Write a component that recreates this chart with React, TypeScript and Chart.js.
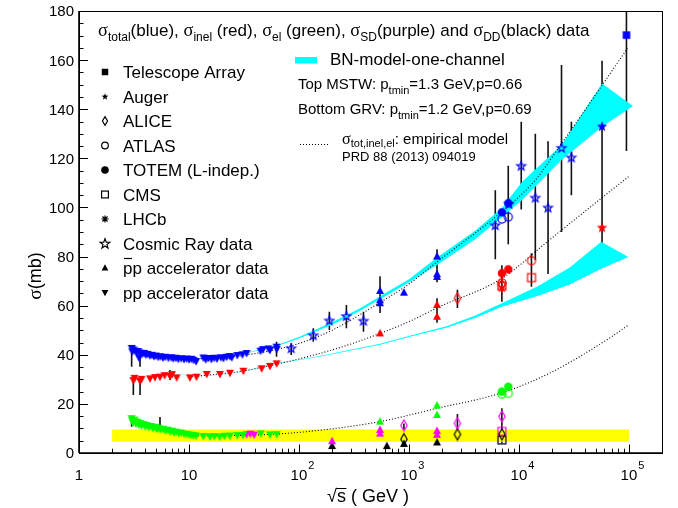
import React, { useEffect, useRef } from 'react';
import { Chart, registerables } from 'chart.js';
Chart.register(...registerables);

// ---------------- data: sqrt(s) in GeV, sigma in mb ----------------
// low-energy pp total (blue, down triangles)
const totLowE = [3.01, 3.05, 3.12, 3.23, 3.35, 3.46, 3.52, 3.6, 3.75, 3.9, 4.05, 4.2, 4.4, 4.6, 4.8, 5.0, 5.25, 5.5, 5.8, 6.1, 6.5, 6.9, 7.2, 7.6, 8.0, 8.5, 9.0, 9.5, 10.0, 10.5, 11.0, 11.6, 13.5, 14.2, 15.0, 16.0, 17.0, 18.0, 19.5, 20.6, 22.0, 23.5, 24.5, 27.5, 30.6, 33.4, 44.7, 47.0, 52.8, 54.5, 62.5, 62.8];
const totLowS = [42.8, 41.4, 42.2, 41.7, 41.0, 41.5, 38.8, 40.9, 40.5, 40.8, 40.1, 40.4, 39.8, 40.0, 39.5, 39.7, 39.2, 39.4, 38.9, 39.2, 38.8, 39.0, 38.6, 38.8, 38.4, 38.6, 38.3, 38.5, 38.2, 38.4, 38.0, 37.4, 38.9, 38.2, 38.7, 38.3, 38.8, 38.5, 39.0, 38.7, 39.2, 39.5, 39.0, 39.9, 40.2, 40.7, 41.7, 42.3, 42.6, 42.0, 43.3, 42.4];
// low-energy pp inelastic (red, down triangles)
const inelLowE = [3.12, 3.2, 3.59, 3.7, 4.42, 4.9, 5.45, 6.0, 6.72, 7.0, 7.73, 10.2, 11.7, 14.5, 19.1, 23.6, 31.2, 45.8, 54.5, 62.7];
const inelLowS = [29.7, 30.6, 29.4, 30.2, 30.4, 30.9, 31.1, 31.7, 31.4, 32.1, 30.8, 30.8, 31.1, 32.2, 32.2, 32.7, 33.5, 34.5, 35.5, 36.5];
// low-energy pp elastic (green, down triangles)
const elLowE = [3.0, 3.05, 3.1, 3.2, 3.3, 3.4, 3.5, 3.6, 3.7, 3.85, 4.0, 4.15, 4.3, 4.5, 4.7, 4.9, 5.1, 5.3, 5.5, 5.8, 6.1, 6.4, 6.7, 7.0, 7.3, 7.7, 8.1, 8.5, 9.0, 9.5, 10.0, 10.5, 11.0, 11.6, 13.5, 15.5, 17.0, 19.0, 21.0, 23.5, 27.5, 31.0, 45.0, 54.5, 62.7];
const elLowS = [14.2, 13.2, 12.4, 13.6, 12.0, 12.8, 11.6, 12.2, 11.2, 11.8, 10.9, 11.4, 10.6, 11.0, 10.3, 10.7, 9.9, 10.3, 9.6, 9.9, 9.2, 9.5, 8.9, 9.1, 8.5, 8.7, 8.2, 8.3, 7.9, 7.8, 7.6, 7.4, 7.3, 7.1, 6.9, 6.8, 6.9, 6.7, 7.0, 7.1, 7.3, 7.4, 8.0, 7.6, 7.7];
// ISR single diffraction (purple, down triangles)
const sdIsrE = [33.4, 36.2, 39.2];
const sdIsrS = [7.6, 7.9, 7.5];
// pbar-p accelerator data (up triangles)
const totPbarE = [546, 546, 546, 900, 1800, 1800, 1800];
const totPbarS = [66.0, 62.2, 61.0, 65.3, 80.0, 72.8, 71.7];
const inelPbarE = [546, 1800, 1800];
const inelPbarS = [48.7, 60.3, 55.5];
const elPbarE = [546, 1800, 1800];
const elPbarS = [12.8, 19.3, 15.5];
const sdPbarE = [200, 546, 546, 1800, 1800];
const sdPbarS = [4.8, 9.4, 7.9, 9.0, 7.4];
const ddPbarE = [200, 630, 900, 1800];
const ddPbarS = [2.85, 2.8, 3.7, 4.3];
// LHC experiments
const totemE = [7000, 8000];
const totemTot = [98.0, 101.7];
const totemInel = [73.2, 74.8];
const totemEl = [25.0, 27.0];
const atlasE = [7000, 8000];
const atlasTot = [95.3, 96.1];
const atlasEl = [24.0, 24.3];
const atlasInelE = [7000, 13000];
const atlasInel = [69.3, 78.3];
const cmsInelE = [7000, 13000];
const cmsInel = [68.0, 71.4];
const lhcbInelE = [7000];
const lhcbInel = [66.9];
const aliceInelE = [2760, 7000];
const aliceInel = [63.0, 68.5];
const aliceSdE = [900, 2760, 7000];
const aliceSd = [11.2, 12.1, 14.9];
const aliceDdE = [900, 2760, 7000];
const aliceDd = [5.6, 7.6, 7.6];
const cmsSdE = [7000];
const cmsSd = [8.8];
const cmsDdE = [7000];
const cmsDd = [5.3];
// cosmic rays
const cosmicE = [85, 135, 189, 270, 386, 6100, 8100, 10500, 14100, 18400, 24400, 30000];
const cosmicS = [42.7, 48.0, 54.0, 55.8, 53.9, 92.8, 101.5, 117.0, 104.0, 100.0, 124.3, 120.4];
const augerE = [57000];
const augerTot = [133.1];
const augerInel = [91.9];
const taE = [95000];
const taTot = [170.2];
// error bars: x, low, high
const errX = [3.01, 3.59, 3.12, 3.59, 6.72, 3.01, 5.45, 62.5, 85, 135, 189, 270, 386, 546, 1800, 1800, 2760, 7000, 13000, 6100, 8000, 10500, 14100, 18400, 24400, 30000, 57000, 95000, 900, 2760, 7000];
const errLo = [35.1, 35.1, 23.6, 23.6, 29.7, 10.7, 10.2, 39.2, 39.9, 45.3, 50.1, 50.8, 49.4, 57.0, 69.5, 53.0, 59.0, 61.6, 67.7, 78.9, 85.0, 99.2, 78.6, 72.9, 90.0, 105.0, 77.2, 123.0, 3.0, 4.6, 3.9];
const errHi = [43.3, 40.6, 31.1, 30.4, 33.8, 14.8, 14.7, 45.3, 44.7, 50.8, 57.5, 60.3, 57.5, 72.0, 83.0, 63.0, 66.5, 76.5, 81.3, 107.0, 117.0, 134.9, 130.0, 127.0, 158.0, 134.9, 159.7, 230.0, 12.0, 15.9, 18.2];
// empirical model curves (dotted)
const empTotE = [5, 10, 20, 40, 60, 100, 200, 546, 1000, 1800, 7000, 14000, 24400, 57000, 97000];
const empTotS = [39.5, 38.4, 38.8, 40.5, 42.0, 44.6, 50.0, 61.3, 68.8, 77.8, 98.3, 111.0, 126.0, 149.7, 164.8];
const empInelE = [10, 30, 60, 100, 250, 546, 1000, 1900, 7000, 18400, 57000, 99000];
const empInelS = [31.0, 33.3, 36.0, 38.3, 43.3, 48.7, 53.5, 59.6, 71.1, 86.3, 104.0, 112.5];
const empElE = [10, 30, 62, 165, 546, 1800, 7000, 20000, 62500, 99000];
const empElS = [7.0, 7.2, 7.7, 9.4, 12.8, 18.2, 24.5, 33.0, 46.0, 52.1];
// BN model bands (cyan)
const bnTotE = [5, 12, 20, 33, 60, 100, 200, 350, 546, 1000, 1800, 4000, 7000, 10700, 24400, 57000, 109000];
const bnTotHi = [39.5, 38.6, 39.3, 40.8, 43.6, 47.2, 53.2, 58.6, 63.8, 70.8, 79.6, 90.5, 99.8, 110.5, 125.4, 150.5, 141.3];
const bnTotLo = [39.3, 38.4, 39.1, 40.6, 43.2, 46.6, 52.2, 57.6, 62.6, 69.4, 76.6, 87.0, 96.0, 103.0, 119.3, 132.9, 141.3];
const bnInE = [5, 12.4, 20, 30, 62, 120, 200, 546, 1000, 2200, 4000, 7000, 15000, 29000, 56000, 99000];
const bnInHi = [32.7, 31.4, 32.0, 33.1, 36.5, 38.6, 40.5, 44.5, 47.6, 51.6, 56.0, 61.0, 68.0, 75.5, 86.0, 79.8];
const bnInLo = [32.6, 31.3, 31.9, 33.0, 36.3, 38.4, 40.2, 44.1, 47.2, 51.0, 55.0, 59.6, 64.0, 68.6, 75.0, 79.8];
// yellow band
const yelE = [2, 100000];
const yelLo = [4.6, 4.6];
const yelHi = [9.6, 9.6];
// ticks
const xTickVals = [1, 10, 100, 1000, 10000, 100000];
const xTickBase = ['1', '10', '10', '10', '10', '10'];
const xTickSup = ['', '', '2', '3', '4', '5'];
const yTickVals = [0, 20, 40, 60, 80, 100, 120, 140, 160, 180];
const legendLabels = ['Telescope Array', 'Auger', 'ALICE', 'ATLAS', 'TOTEM (L-indep.)', 'CMS', 'LHCb', 'Cosmic Ray data', 'pp accelerator data', 'pp accelerator data'];

// ---------------- styling ----------------
const BLUE = '#0000ff', RED = '#ff0000', GREEN = '#00ff00', MAG = '#ff00ff', BLACK = '#000000', CYAN = '#00ffff', YEL = '#ffff00';
const SANS = '"Liberation Sans", Arial, sans-serif';
const SERIF = '"Liberation Serif", "Times New Roman", serif';

type Kind = 'triUp' | 'triDown' | 'circF' | 'circO' | 'sqF' | 'sqO' | 'diaO' | 'starO' | 'starF' | 'aster';
const legendKinds: [Kind, number][] = [['sqF', 0.9], ['starF', 0.55], ['diaO', 0.8], ['circO', 0.9], ['circF', 0.95], ['sqO', 0.95], ['aster', 0.9], ['starO', 0.85], ['triUp', 0.85], ['triDown', 0.85]];

function starPath(ctx: CanvasRenderingContext2D, cx: number, cy: number, ro: number, ri: number) {
  ctx.beginPath();
  for (let i = 0; i < 10; i++) {
    const r = i % 2 === 0 ? ro : ri;
    const a = -Math.PI / 2 + (i * Math.PI) / 5;
    const px = cx + r * Math.cos(a), py = cy + r * Math.sin(a);
    if (i === 0) ctx.moveTo(px, py); else ctx.lineTo(px, py);
  }
  ctx.closePath();
}

function drawMarker(ctx: CanvasRenderingContext2D, kind: Kind, cx: number, cy: number, color: string, s = 1) {
  ctx.save();
  ctx.fillStyle = color;
  ctx.strokeStyle = color;
  ctx.lineWidth = 1.2;
  ctx.setLineDash([]);
  switch (kind) {
    case 'triUp':
      ctx.beginPath(); ctx.moveTo(cx, cy - 4.5 * s); ctx.lineTo(cx + 4 * s, cy + 3 * s); ctx.lineTo(cx - 4 * s, cy + 3 * s); ctx.closePath(); ctx.fill(); break;
    case 'triDown':
      ctx.beginPath(); ctx.moveTo(cx - 4 * s, cy - 3 * s); ctx.lineTo(cx + 4 * s, cy - 3 * s); ctx.lineTo(cx, cy + 4.5 * s); ctx.closePath(); ctx.fill(); break;
    case 'circF':
      ctx.beginPath(); ctx.arc(cx, cy, 4 * s, 0, Math.PI * 2); ctx.fill(); break;
    case 'circO':
      ctx.beginPath(); ctx.arc(cx, cy, 3.7 * s, 0, Math.PI * 2); ctx.stroke(); break;
    case 'sqF':
      ctx.fillRect(cx - 3.6 * s, cy - 3.6 * s, 7.2 * s, 7.2 * s); break;
    case 'sqO':
      ctx.strokeRect(cx - 3.6 * s, cy - 3.6 * s, 7.2 * s, 7.2 * s); break;
    case 'diaO':
      ctx.beginPath(); ctx.moveTo(cx, cy - 5.5 * s); ctx.lineTo(cx + 3.2 * s, cy); ctx.lineTo(cx, cy + 5.5 * s); ctx.lineTo(cx - 3.2 * s, cy); ctx.closePath(); ctx.stroke(); break;
    case 'starO':
      starPath(ctx, cx, cy + 0.5 * s, 6 * s, 2.5 * s); ctx.stroke(); break;
    case 'starF':
      starPath(ctx, cx, cy + 0.5 * s, 6.5 * s, 2.7 * s); ctx.fill(); break;
    case 'aster':
      ctx.beginPath();
      for (let i = 0; i < 4; i++) {
        const a = (i * Math.PI) / 4;
        ctx.moveTo(cx - 4 * s * Math.cos(a), cy - 4 * s * Math.sin(a));
        ctx.lineTo(cx + 4 * s * Math.cos(a), cy + 4 * s * Math.sin(a));
      }
      ctx.stroke(); break;
  }
  ctx.restore();
}

function makeImg(kind: Kind, color: string, s = 1) {
  const c = document.createElement('canvas');
  c.width = 18; c.height = 18;
  drawMarker(c.getContext('2d')!, kind, 9, 9, color, s);
  return c;
}

const pts = (E: number[], S: number[]) => E.map((x, i) => ({ x, y: S[i] }));

type Seg = [string, number]; // 0 normal, 1 sub, 2 sup, 3 greek
function rich(ctx: CanvasRenderingContext2D, segs: Seg[], x: number, y: number, size: number, align: 'left' | 'center' = 'left', subDy = 0.3) {
  const font = (k: number) => (k === 3 ? `${size * 1.08}px ${SERIF}` : k === 1 || k === 2 ? `${Math.round(size * 0.7)}px ${SANS}` : `${size}px ${SANS}`);
  let w = 0;
  for (const [t, k] of segs) { ctx.font = font(k); w += ctx.measureText(t).width; }
  let cx = align === 'center' ? x - w / 2 : x;
  ctx.textAlign = 'left';
  ctx.textBaseline = 'alphabetic';
  for (const [t, k] of segs) {
    ctx.font = font(k);
    const dy = k === 1 ? size * subDy : k === 2 ? -size * 0.45 : 0;
    ctx.fillText(t, cx, y + dy);
    cx += ctx.measureText(t).width;
  }
  return w;
}

const overlayPlugin = {
  id: 'overlay',
  beforeDatasetsDraw(chart: any) {
    const { ctx, chartArea: a, scales } = chart;
    const xs = scales.x, ys = scales.y;
    ctx.save();
    ctx.beginPath(); ctx.rect(a.left, a.top, a.right - a.left, a.bottom - a.top); ctx.clip();
    ctx.strokeStyle = '#111'; ctx.lineWidth = 1.6;
    ctx.beginPath();
    for (let i = 0; i < errX.length; i++) {
      const px = xs.getPixelForValue(errX[i]);
      ctx.moveTo(px, ys.getPixelForValue(errLo[i]));
      ctx.lineTo(px, ys.getPixelForValue(errHi[i]));
    }
    ctx.stroke();
    ctx.restore();
  },
  afterDraw(chart: any) {
    const { ctx, chartArea: a, scales } = chart;
    const xs = scales.x, ys = scales.y;
    ctx.save();
    ctx.fillStyle = '#000'; ctx.strokeStyle = '#000';
    // frame
    ctx.lineWidth = 1; ctx.setLineDash([]);
    ctx.strokeRect(a.left + 0.5, a.top + 0.5, a.right - a.left, a.bottom - a.top);
    ctx.lineWidth = 1.6;
    ctx.beginPath(); ctx.moveTo(a.left, a.bottom); ctx.lineTo(a.right + 1, a.bottom); ctx.moveTo(a.left, a.top); ctx.lineTo(a.left, a.bottom); ctx.stroke();
    // x ticks
    ctx.lineWidth = 1;
    ctx.beginPath();
    for (let d = 1; d <= 100000; d *= 10) {
      for (let m = 1; m <= 9; m++) {
        const v = d * m;
        if (v > 200000) break;
        const px = Math.round(xs.getPixelForValue(v)) + 0.5;
        const len = m === 1 ? 8.5 : 4.3;
        ctx.moveTo(px, a.bottom); ctx.lineTo(px, a.bottom - len);
      }
    }
    // y ticks
    for (let v = 0; v <= 180; v += 5) {
      const py = Math.round(ys.getPixelForValue(v)) + 0.5;
      const len = v % 20 === 0 ? 9 : 4.5;
      ctx.moveTo(a.left, py); ctx.lineTo(a.left + len, py);
    }
    ctx.stroke();
    // tick labels
    for (let i = 0; i < xTickVals.length; i++) {
      const px = xs.getPixelForValue(xTickVals[i]);
      ctx.font = `15px ${SANS}`; ctx.textAlign = 'center'; ctx.textBaseline = 'alphabetic';
      ctx.fillText(xTickBase[i], px, 480);
      if (xTickSup[i]) {
        const w = ctx.measureText(xTickBase[i]).width;
        ctx.font = `11px ${SANS}`; ctx.textAlign = 'left';
        ctx.fillText(xTickSup[i], px + w / 2 + 1, 469);
      }
    }
    ctx.font = `15px ${SANS}`; ctx.textAlign = 'right'; ctx.textBaseline = 'alphabetic';
    for (const v of yTickVals) ctx.fillText(String(v), 74, ys.getPixelForValue(v) + 5.4);
    // axis titles
    ctx.font = `18px ${SANS}`; ctx.textAlign = 'left';
    const xt = '√s ( GeV )';
    const xw = ctx.measureText(xt).width;
    const x0 = 368 - xw / 2;
    ctx.fillText(xt, x0, 502);
    const rw = ctx.measureText('√').width, sw = ctx.measureText('s').width;
    ctx.lineWidth = 1; ctx.beginPath(); ctx.moveTo(x0 + rw - 1, 488.5); ctx.lineTo(x0 + rw + sw + 0.5, 488.5); ctx.stroke();
    ctx.save();
    ctx.translate(41, 276); ctx.rotate(-Math.PI / 2);
    rich(ctx, [['σ', 3], ['(mb)', 0]], 0, 0, 18, 'center');
    ctx.restore();
    // title
    rich(ctx, [['σ', 3], ['total', 1], ['(blue), ', 0], ['σ', 3], ['inel', 1], [' (red), ', 0], ['σ', 3], ['el', 1], [' (green), ', 0], ['σ', 3], ['SD', 1], ['(purple) and ', 0], ['σ', 3], ['DD', 1], ['(black) data', 0]], 98, 36, 17);
    // legend (left)
    for (let i = 0; i < legendLabels.length; i++) {
      const by = 78 + i * 24.5;
      const [k, s] = legendKinds[i];
      drawMarker(ctx, k, 105, by - 6, BLACK, s);
      ctx.font = `17px ${SANS}`; ctx.textAlign = 'left'; ctx.fillStyle = '#000';
      ctx.fillText(legendLabels[i], 123, by);
      if (i === 8) {
        const pw = ctx.measureText('p').width;
        ctx.lineWidth = 1.2; ctx.beginPath(); ctx.moveTo(124, by - 15.5); ctx.lineTo(123 + pw - 0.5, by - 15.5); ctx.stroke();
      }
    }
    // BN legend
    ctx.fillStyle = CYAN; ctx.fillRect(295, 57, 22, 6.5);
    ctx.fillStyle = '#000';
    ctx.font = `17px ${SANS}`; ctx.fillText('BN-model-one-channel', 330, 65);
    rich(ctx, [['Top MSTW: p', 0], ['tmin', 1], ['=1.3 GeV,p=0.66', 0]], 298, 89, 15);
    rich(ctx, [['Bottom GRV: p', 0], ['tmin', 1], ['=1.2 GeV,p=0.69', 0]], 298, 114, 15);
    ctx.lineWidth = 1; ctx.setLineDash([1, 2]);
    ctx.beginPath(); ctx.moveTo(300, 144.5); ctx.lineTo(328, 144.5); ctx.stroke();
    ctx.setLineDash([]);
    rich(ctx, [['σ', 3], ['tot,inel,el', 1], [': empirical model', 0]], 342, 144, 15, 'left', 0.22);
    ctx.font = `13px ${SANS}`; ctx.textAlign = 'left';
    ctx.fillText('PRD 88 (2013) 094019', 342, 161);
    ctx.restore();
  },
};

function pointSet(E: number[], S: number[], kind: Kind, color: string, s = 1) {
  return { data: pts(E, S), showLine: false, pointStyle: makeImg(kind, color, s), pointRadius: 4, fill: false, order: 0 };
}
function curveSet(E: number[], S: number[]) {
  return { data: pts(E, S), showLine: true, borderColor: '#000', borderWidth: 1.1, borderDash: [1, 2], pointRadius: 0, fill: false, tension: 0.4, cubicInterpolationMode: 'monotone', order: 5 };
}
function bandSet(E: number[], S: number[], color: string, fillPrev: boolean) {
  return { data: pts(E, S), showLine: true, borderColor: 'rgba(0,0,0,0)', borderWidth: 0, pointRadius: 0, backgroundColor: color, fill: fillPrev ? '-1' : false, tension: 0, order: 10 };
}

export default function App() {
  const ref = useRef<HTMLCanvasElement>(null);
  useEffect(() => {
    const datasets: any[] = [
      bandSet(yelE, yelLo, YEL, false),
      bandSet(yelE, yelHi, YEL, true),
      bandSet(bnTotE, bnTotLo, CYAN, false),
      bandSet(bnTotE, bnTotHi, CYAN, true),
      bandSet(bnInE, bnInLo, CYAN, false),
      bandSet(bnInE, bnInHi, CYAN, true),
      curveSet(empTotE, empTotS),
      curveSet(empInelE, empInelS),
      curveSet(empElE, empElS),
      pointSet(totLowE, totLowS, 'triDown', BLUE),
      pointSet(inelLowE, inelLowS, 'triDown', RED),
      pointSet(elLowE, elLowS, 'triDown', GREEN),
      pointSet(sdIsrE, sdIsrS, 'triDown', MAG),
      pointSet(totPbarE, totPbarS, 'triUp', BLUE),
      pointSet(inelPbarE, inelPbarS, 'triUp', RED),
      pointSet(elPbarE, elPbarS, 'triUp', GREEN),
      pointSet(sdPbarE, sdPbarS, 'triUp', MAG),
      pointSet(ddPbarE, ddPbarS, 'triUp', BLACK),
      pointSet(totemE, totemTot, 'circF', BLUE, 1.05),
      pointSet(totemE, totemInel, 'circF', RED, 1.05),
      pointSet(totemE, totemEl, 'circF', GREEN, 1.05),
      pointSet(atlasE, atlasTot, 'circO', BLUE, 1.1),
      pointSet(atlasE, atlasEl, 'circO', GREEN, 1.1),
      pointSet(atlasInelE, atlasInel, 'circO', RED, 1.1),
      pointSet(cmsInelE, cmsInel, 'sqO', RED, 1.1),
      pointSet(lhcbInelE, lhcbInel, 'aster', RED),
      pointSet(aliceInelE, aliceInel, 'diaO', RED),
      pointSet(aliceSdE, aliceSd, 'diaO', MAG),
      pointSet(aliceDdE, aliceDd, 'diaO', BLACK),
      pointSet(cmsSdE, cmsSd, 'sqO', MAG, 1.1),
      pointSet(cmsDdE, cmsDd, 'sqO', BLACK, 1.1),
      pointSet(cosmicE, cosmicS, 'starO', BLUE, 0.78),
      pointSet(augerE, augerTot, 'starF', BLUE, 0.85),
      pointSet(augerE, augerInel, 'starF', RED, 0.85),
      pointSet(taE, taTot, 'sqF', BLUE, 1.05),
    ];
    const chart = new Chart(ref.current!, {
      type: 'line',
      data: { datasets },
      options: {
        animation: false,
        responsive: false,
        events: [],
        layout: { padding: { left: 79, right: 16, top: 11, bottom: 55 } },
        scales: {
          x: { type: 'logarithmic', min: 1, max: 200000, display: false },
          y: { type: 'linear', min: 0, max: 180, display: false },
        },
        plugins: { legend: { display: false }, tooltip: { enabled: false } },
      },
      plugins: [overlayPlugin],
    } as any);
    return () => chart.destroy();
  }, []);
  return (
    <div style={{ position: 'absolute', left: 0, top: 0, width: 678, height: 508, background: '#fff' }}>
      <canvas ref={ref} width={678} height={508} style={{ display: 'block' }} />
    </div>
  );
}
